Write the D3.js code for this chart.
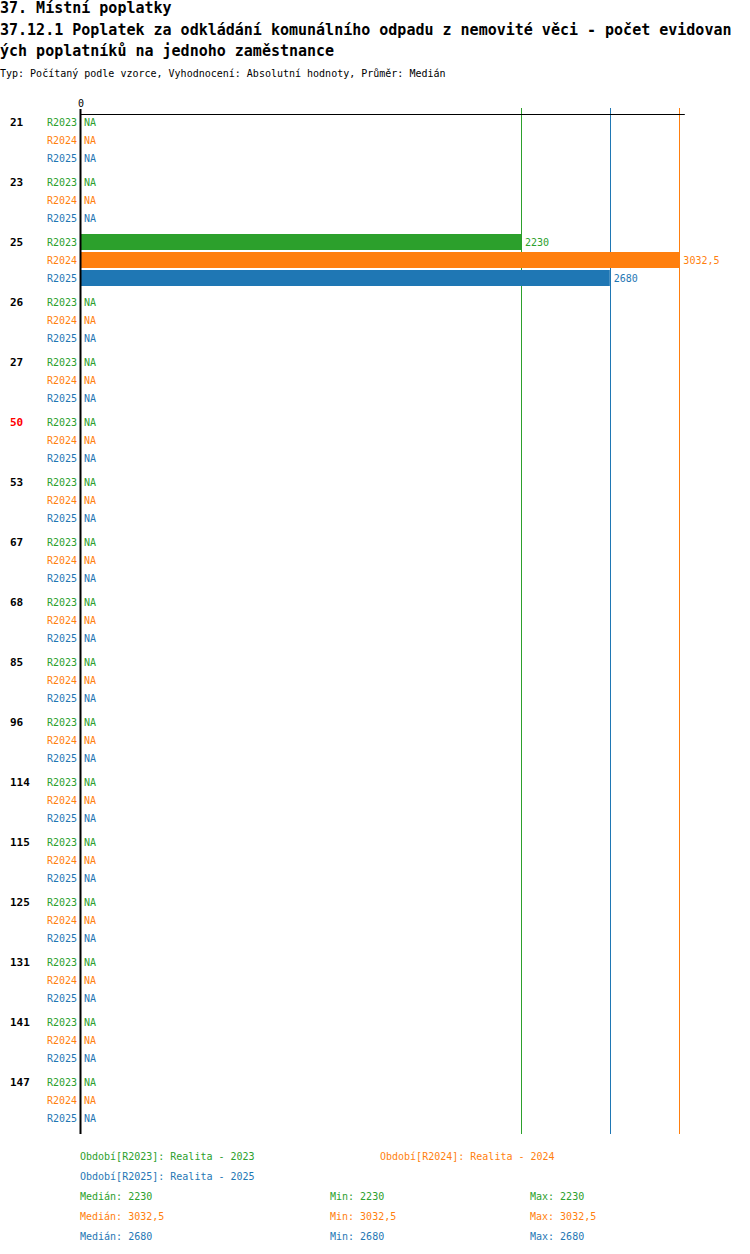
<!DOCTYPE html>
<html><head><meta charset="utf-8">
<script src="https://cdn.jsdelivr.net/npm/d3@7/dist/d3.min.js"></script>
<style>body{margin:0;background:#fff}</style>
</head><body>
<svg id="c" width="750" height="1254"></svg>
<script>
const categories = ["21","23","25","26","27","50","53","67","68","85","96","114","115","125","131","141","147"];
const highlighted = ["50"];
const seriesNames = ["R2023","R2024","R2025"];
const seriesColors = ["#2ca02c","#ff7f0e","#1f77b4"];
const values2023 = [null,null,2230,null,null,null,null,null,null,null,null,null,null,null,null,null,null];
const values2024 = [null,null,3032.5,null,null,null,null,null,null,null,null,null,null,null,null,null,null];
const values2025 = [null,null,2680,null,null,null,null,null,null,null,null,null,null,null,null,null,null];
const medians = [2230,3032.5,2680];
const mins = [2230,3032.5,2680];
const maxs = [2230,3032.5,2680];
const periodLabels = ["Období[R2023]: Realita - 2023","Období[R2024]: Realita - 2024","Období[R2025]: Realita - 2025"];
const titleLines = ["37. Místní poplatky","37.12.1 Poplatek za odkládání komunálního odpadu z nemovité věci - počet evidovan","ých poplatníků na jednoho zaměstnance"];
const subtitle = "Typ: Počítaný podle vzorce, Vyhodnocení: Absolutní hodnoty, Průměr: Medián";

const allSeries = [values2023, values2024, values2025];
const fmt = v => String(v).replace(".", ",");
const mono = "'DejaVu Sans Mono', monospace";
const svg = d3.select("#c");

// titles
svg.selectAll("text.title").data(titleLines).join("text")
  .attr("x", 0).attr("y", (d,i)=>8+i*21.5).attr("dy","0.35em")
  .attr("font-family", mono).attr("font-size", 15).attr("font-weight","bold").attr("fill","#000")
  .text(d=>d);
svg.append("text").attr("x",0).attr("y",73).attr("dy","0.35em")
  .attr("font-family",mono).attr("font-size",10).attr("fill","#000").text(subtitle);

const x = d3.scaleLinear().domain([0,3060]).range([81,684.8]);
const y = d3.scaleBand().domain(categories).range([114,1134]);
const yi = d3.scaleBand().domain(seriesNames).range([0,52]).paddingInner(2/18);

// median lines
svg.selectAll("line.med").data(medians).join("line")
  .attr("x1",d=>Math.round(x(d))+0.5).attr("x2",d=>Math.round(x(d))+0.5)
  .attr("y1",108).attr("y2",1134)
  .attr("stroke",(d,i)=>seriesColors[i]).attr("stroke-width",1);

// top axis
svg.append("line").attr("x1",80).attr("x2",x.range()[1]).attr("y1",114.5).attr("y2",114.5)
  .attr("stroke","#000").attr("stroke-width",1);
svg.append("text").attr("x",x(0)).attr("y",103).attr("dy","0.35em").attr("text-anchor","middle")
  .attr("font-family",mono).attr("font-size",10).text("0");

const g = svg.selectAll("g.grp").data(categories).join("g")
  .attr("transform", d=>`translate(0,${y(d)})`);
g.append("text").attr("x",10).attr("y",yi("R2023")+yi.bandwidth()/2).attr("dy","0.35em")
  .attr("font-family",mono).attr("font-size",11).attr("font-weight","bold")
  .attr("fill",d=>highlighted.includes(d)?"#ff0000":"#000").text(d=>d);

seriesNames.forEach((s,si)=>{
  const cy = yi(s)+yi.bandwidth()/2;
  g.append("text").attr("x",77).attr("y",cy).attr("dy","0.35em").attr("text-anchor","end")
    .attr("font-family",mono).attr("font-size",10).attr("fill",seriesColors[si]).text(s);
  g.each(function(cat,ci){
    const v = allSeries[si][ci];
    const sel = d3.select(this);
    if (v==null){
      sel.append("text").attr("x",84).attr("y",cy).attr("dy","0.35em")
        .attr("font-family",mono).attr("font-size",10).attr("fill",seriesColors[si]).text("NA");
    } else {
      sel.append("rect").attr("x",x(0)).attr("y",yi(s)).attr("width",x(v)-x(0)).attr("height",yi.bandwidth())
        .attr("fill",seriesColors[si]);
      sel.append("text").attr("x",x(v)+4).attr("y",cy).attr("dy","0.35em")
        .attr("font-family",mono).attr("font-size",10).attr("fill",seriesColors[si]).text(fmt(v));
    }
  });
});

// zero axis
svg.append("line").attr("x1",80.5).attr("x2",80.5).attr("y1",109).attr("y2",1134)
  .attr("stroke","#000").attr("stroke-width",2);

// legend
const legPos = [[80,1156],[380,1156],[80,1176]];
periodLabels.forEach((t,i)=>{
  svg.append("text").attr("x",legPos[i][0]).attr("y",legPos[i][1]).attr("dy","0.35em")
    .attr("font-family",mono).attr("font-size",10).attr("fill",seriesColors[i]).text(t);
});
seriesNames.forEach((s,i)=>{
  const yy = 1196+i*20;
  [["Medián: ",medians[i],80],["Min: ",mins[i],330],["Max: ",maxs[i],530]].forEach(([lab,v,xx])=>{
    svg.append("text").attr("x",xx).attr("y",yy).attr("dy","0.35em")
      .attr("font-family",mono).attr("font-size",10).attr("fill",seriesColors[i]).text(lab+fmt(v));
  });
});
</script>
</body></html>
